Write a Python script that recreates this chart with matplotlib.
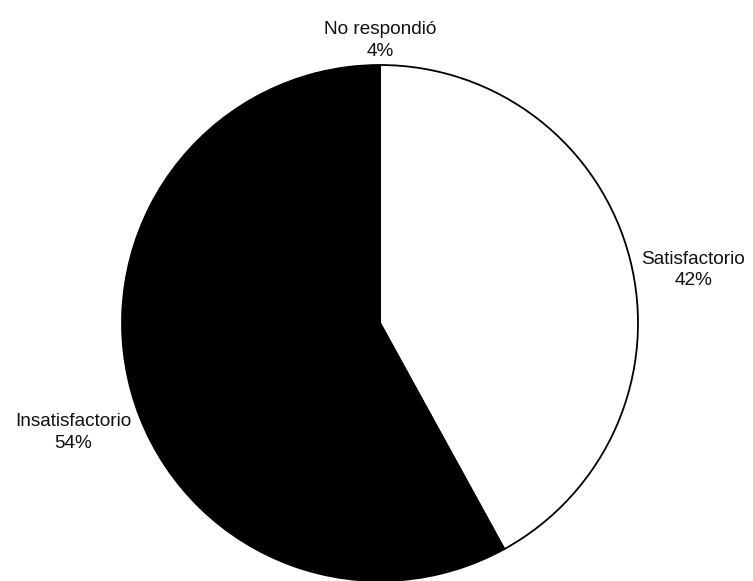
import matplotlib.pyplot as plt

categories = ["Satisfactorio", "Insatisfactorio", "No respondió"]
values = [42, 54, 4]
colors = ["white", "black", "black"]

plt.rcParams['font.family'] = ['Liberation Sans', 'DejaVu Sans']

fig = plt.figure(figsize=(7.53, 5.81), dpi=100)
ax = fig.add_axes([122/753, 0.0, 516/753, 516/581])

labels = [f"{c}\n{v}%" for c, v in zip(categories, values)]
wedges, texts = ax.pie(values, colors=colors, labels=labels, startangle=90,
                       counterclock=False, radius=1.0,
                       wedgeprops=dict(edgecolor="black", linewidth=1.3),
                       textprops=dict(fontsize=13.7, color="#111111"))

# label placement as in the reference
label_pos = [(1.215, 0.205), (-1.19, -0.425), (0.0, 1.095)]
for t, (x, y) in zip(texts, label_pos):
    t.set_position((x, y))
    t.set_ha("center")
    t.set_va("center")
    t.set_multialignment("center")
    t.set_linespacing(1.35)

ax.set_xlim(-1, 1)
ax.set_ylim(-1, 1)
ax.set_aspect("equal")
ax.axis("off")

fig.savefig("out.png", dpi=100)
